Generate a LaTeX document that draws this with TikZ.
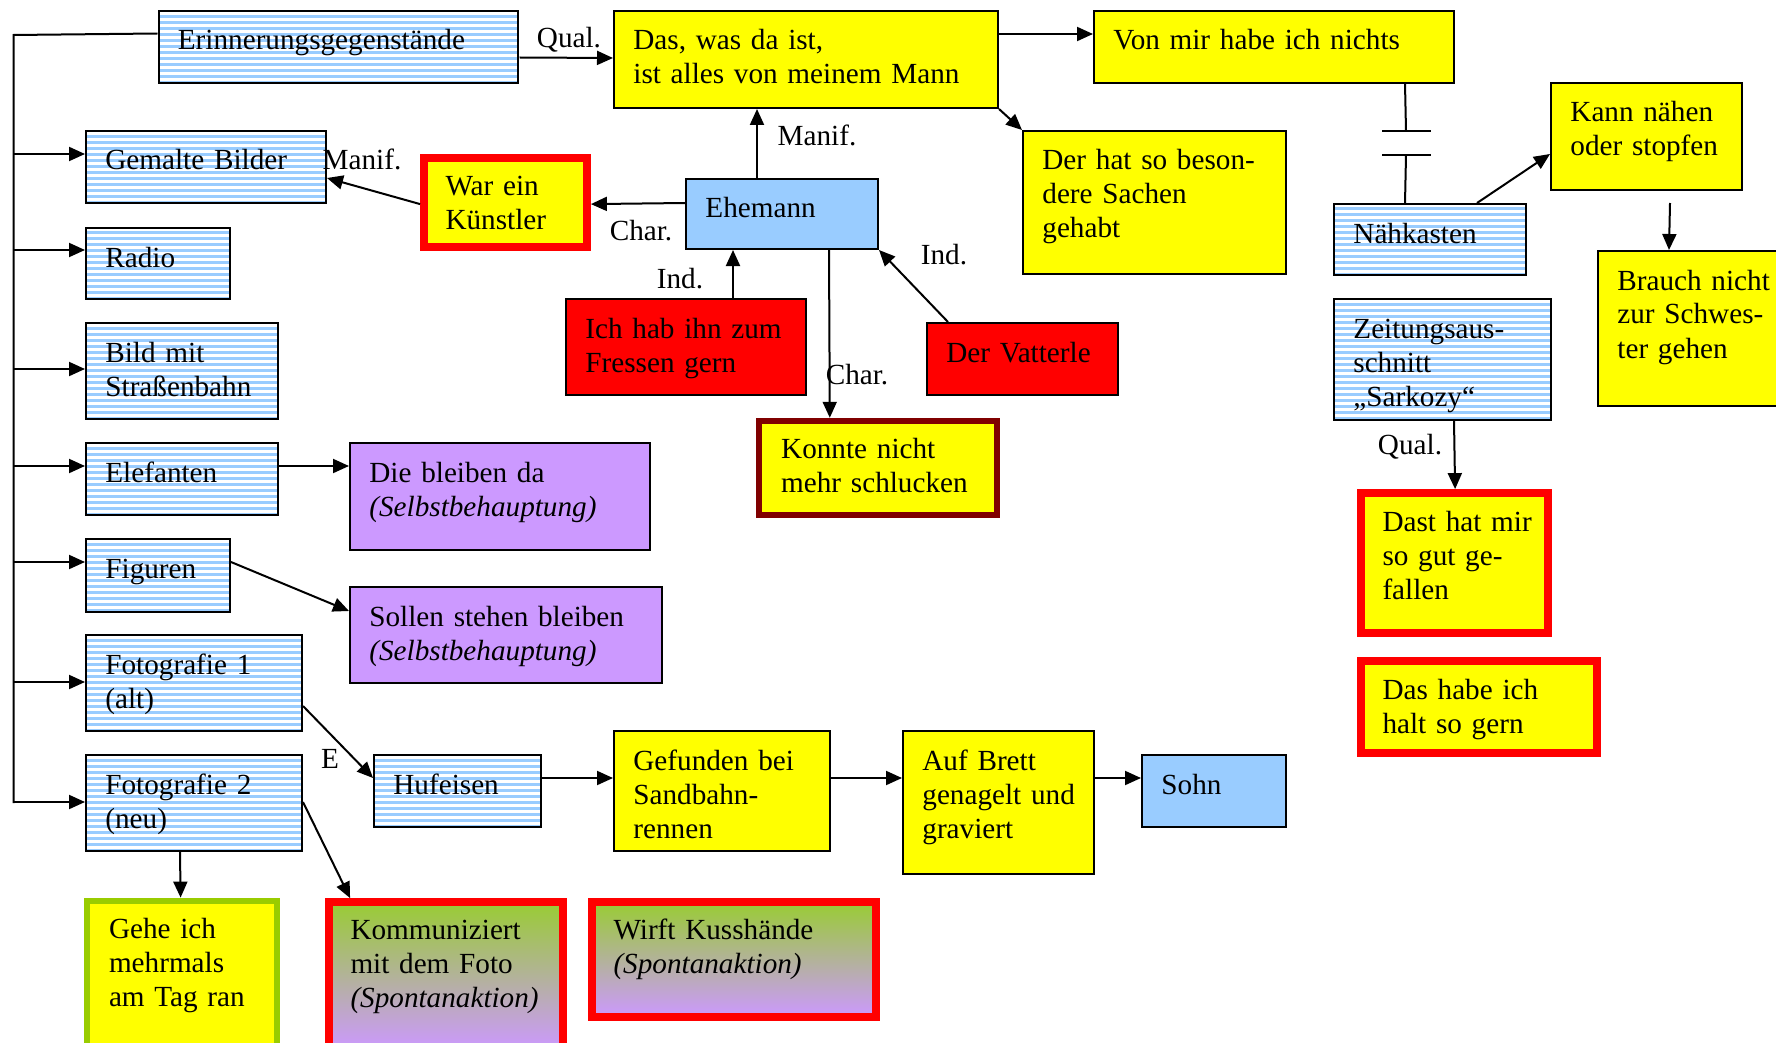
\documentclass[tikz,border=0pt]{standalone}
\usepackage{fontspec}
\setmainfont{Liberation Serif}
\usetikzlibrary{arrows.meta,calc,fit,patterns.meta}
\definecolor{stripeblue}{HTML}{99CCFF}
\definecolor{skyfill}{HTML}{99CCFF}
\definecolor{noteyellow}{HTML}{FFFF00}
\definecolor{alarmred}{HTML}{FF0000}
\definecolor{darkrim}{HTML}{800000}
\definecolor{lilac}{HTML}{CC99FF}
\definecolor{leafgreen}{HTML}{99CC00}
\definecolor{gradgreen}{HTML}{99CC33}

\begin{document}
\begin{tikzpicture}[x=0.5pt,y=-0.5pt,
  every node/.style={inner sep=0pt},
  frame/.style={draw=black,line width=1pt,inner sep=0pt,rectangle},
  striped/.style={frame,pattern={Lines[angle=0,distance=3pt,line width=1.5pt]},pattern color=stripeblue},
  yel/.style={frame,fill=noteyellow},
  sky/.style={frame,fill=skyfill},
  redbox/.style={frame,fill=alarmred},
  lil/.style={frame,fill=lilac},
  redrim/.style={draw=alarmred,line width=3.9pt,fill=noteyellow,inner sep=0pt},
  darkrimbox/.style={draw=darkrim,line width=3.2pt,fill=noteyellow,inner sep=0pt},
  greenrim/.style={draw=leafgreen,line width=3.4pt,fill=noteyellow,inner sep=0pt},
  fade/.style={draw=alarmred,line width=3.9pt,top color=gradgreen,bottom color=lilac,inner sep=0pt},
  txt/.style={anchor=base west,align=left,text width=190pt,font=\fontsize{14.6pt}{17pt}\selectfont},
  lab/.style={font=\fontsize{14.6pt}{17pt}\selectfont},
  arr/.style={line width=1pt,-{Triangle[length=8pt,width=7pt]}},
  rarr/.style={line width=1pt,{Triangle[length=8pt,width=7pt]}-},
  conn/.style={line width=1pt},
]
\useasboundingbox (0,0) rectangle (1776,1043);
\clip (0,0) rectangle (1776,1043);
\fill[white] (0,0) rectangle (1776,1043);

% ---- boxes ----
\node[striped,fit={(159,11) (518,83)}] (erinn) {};
\node[yel,fit={(614,11) (998,108)}] (das) {};
\node[yel,fit={(1094,11) (1454,83)}] (von) {};
\node[striped,fit={(86,131) (326,203)}] (gemalte) {};
\node[redrim,fit={(424,158) (587,247)}] (war) {};
\node[sky,fit={(686,179) (878,249)}] (ehe) {};
\node[yel,fit={(1023,131) (1286,274)}] (derhat) {};
\node[yel,fit={(1551,83) (1742,190)}] (kann) {};
\node[striped,fit={(1334,204) (1526,275)}] (naeh) {};
\node[yel,fit={(1598,251) (1800,406)}] (brauch) {};
\node[striped,fit={(86,228) (230,299)}] (radio) {};
\node[redbox,fit={(566,299) (806,395)}] (ich) {};
\node[redbox,fit={(927,323) (1118,395)}] (vat) {};
\node[striped,fit={(1334,299) (1551,420)}] (zeit) {};
\node[striped,fit={(86,323) (278,419)}] (bild) {};
\node[darkrimbox,fit={(759,421) (997,515)}] (konnte) {};
\node[striped,fit={(86,443) (278,515)}] (elef) {};
\node[lil,fit={(350,443) (650,550)}] (bleib) {};
\node[redrim,fit={(1361,493) (1548,633)}] (dast) {};
\node[striped,fit={(86,539) (230,612)}] (fig) {};
\node[lil,fit={(350,587) (662,683)}] (sollen) {};
\node[redrim,fit={(1361,661) (1597,753)}] (gern) {};
\node[striped,fit={(86,635) (302,731)}] (foto1) {};
\node[striped,fit={(86,755) (302,851)}] (foto2) {};
\node[striped,fit={(374,755) (541,827)}] (huf) {};
\node[yel,fit={(614,731) (830,851)}] (gef) {};
\node[yel,fit={(903,731) (1094,874)}] (brett) {};
\node[sky,fit={(1142,755) (1286,827)}] (sohn) {};
\node[greenrim,fit={(87,901) (277,1050)}] (gehe) {};
\node[fade,fit={(329,902) (563,1050)}] (komm) {};
\node[fade,fit={(592,902) (876,1017)}] (wirft) {};

% ---- box texts ----
\node[txt] (erinn-t) at ($(erinn.north west)+(20,40)$) {Erinnerungsgegenstände};
\node[txt] (das-t) at ($(das.north west)+(20,40)$) {Das, was da ist,\\ist alles von meinem Mann};
\node[txt] (von-t) at ($(von.north west)+(20,40)$) {Von mir habe ich nichts};
\node[txt] (gemalte-t) at ($(gemalte.north west)+(20,40)$) {Gemalte Bilder};
\node[txt] (war-t) at ($(war.north west)+(25,41)$) {War ein\\Künstler};
\node[txt] (ehe-t) at ($(ehe.north west)+(20,40)$) {Ehemann};
\node[txt] (derhat-t) at ($(derhat.north west)+(20,40)$) {Der hat so beson-\\dere Sachen\\gehabt};
\node[txt] (kann-t) at ($(kann.north west)+(20,40)$) {Kann nähen\\oder stopfen};
\node[txt] (naeh-t) at ($(naeh.north west)+(20,40)$) {Nähkasten};
\node[txt] (brauch-t) at ($(brauch.north west)+(20,40)$) {Brauch nicht\\zur Schwes-\\ter gehen};
\node[txt] (radio-t) at ($(radio.north west)+(20,40)$) {Radio};
\node[txt] (ich-t) at ($(ich.north west)+(20,40)$) {Ich hab ihn zum\\Fressen gern};
\node[txt] (vat-t) at ($(vat.north west)+(20,40)$) {Der Vatterle};
\node[txt] (zeit-t) at ($(zeit.north west)+(20,40)$) {Zeitungsaus-\\schnitt\\„Sarkozy“};
\node[txt] (bild-t) at ($(bild.north west)+(20,40)$) {Bild mit\\Straßenbahn};
\node[txt] (konnte-t) at ($(konnte.north west)+(25,41)$) {Konnte nicht\\mehr schlucken};
\node[txt] (elef-t) at ($(elef.north west)+(20,40)$) {Elefanten};
\node[txt] (bleib-t) at ($(bleib.north west)+(20,40)$) {Die bleiben da\\\textit{(Selbstbehauptung)}};
\node[txt] (dast-t) at ($(dast.north west)+(25,42)$) {Dast hat mir\\so gut ge-\\fallen};
\node[txt] (fig-t) at ($(fig.north west)+(20,40)$) {Figuren};
\node[txt] (sollen-t) at ($(sollen.north west)+(20,40)$) {Sollen stehen bleiben\\\textit{(Selbstbehauptung)}};
\node[txt] (gern-t) at ($(gern.north west)+(25,42)$) {Das habe ich\\halt so gern};
\node[txt] (foto1-t) at ($(foto1.north west)+(20,40)$) {Fotografie 1\\(alt)};
\node[txt] (foto2-t) at ($(foto2.north west)+(20,40)$) {Fotografie 2\\(neu)};
\node[txt] (huf-t) at ($(huf.north west)+(20,40)$) {Hufeisen};
\node[txt] (gef-t) at ($(gef.north west)+(20,40)$) {Gefunden bei\\Sandbahn-\\rennen};
\node[txt] (brett-t) at ($(brett.north west)+(20,40)$) {Auf Brett\\genagelt und\\graviert};
\node[txt] (sohn-t) at ($(sohn.north west)+(20,40)$) {Sohn};
\node[txt] (gehe-t) at ($(gehe.north west)+(25,41)$) {Gehe ich\\mehrmals\\am Tag ran};
\node[txt] (komm-t) at ($(komm.north west)+(25,41)$) {Kommuniziert\\mit dem Foto\\\textit{(Spontanaktion)}};
\node[txt] (wirft-t) at ($(wirft.north west)+(25,41)$) {Wirft Kusshände\\\textit{(Spontanaktion)}};

% ---- trunk on the left ----
\coordinate (trunkTop) at (13.6,35);
\coordinate (trunkBot) at (13.6,803);
\draw[conn] ($(erinn.north west)+(0,24)$) -- (trunkTop) -- (trunkBot);
\draw[rarr] ($(gemalte.north west)+(0,24)$) -- ++(-71.4,0);
\draw[rarr] ($(radio.north west)+(0,23)$) -- ++(-71.4,0);
\draw[rarr] ($(bild.north west)+(0,47)$) -- ++(-71.4,0);
\draw[rarr] ($(elef.north west)+(0,24)$) -- ++(-71.4,0);
\draw[rarr] ($(fig.north west)+(0,24)$) -- ++(-71.4,0);
\draw[rarr] ($(foto1.north west)+(0,48)$) -- ++(-71.4,0);
\draw[rarr] ($(foto2.north west)+(0,48)$) -- ++(-71.4,0);

% ---- connectors ----
\draw[arr] ($(erinn.north east)+(0,48)$) -- ($(das.north west)+(0,48)$);
\draw[arr] ($(das.north east)+(0,24)$) -- ($(von.north west)+(0,24)$);
\draw[arr] (das.south east) -- (derhat.north west);
\draw[arr] ($(ehe.north west)+(72,0)$) -- ($(das.south west)+(144,0)$);
\draw[arr] ($(ehe.north west)+(0,25)$) -- ($(war.north east)+(0,50)$);
\draw[arr] ($(war.north west)+(0,50)$) -- ($(gemalte.north east)+(0,48)$);
\draw[arr] ($(ich.north west)+(168,0)$) -- ($(ehe.south west)+(48,0)$);
\draw[arr] ($(vat.north west)+(22,0)$) -- (ehe.south east);
\draw[arr] ($(ehe.south west)+(144,0)$) -- ($(konnte.north west)+(74,0)$);

% interrupted link between "Von mir ..." and the sewing box
\coordinate (cutA) at (1406,131);
\coordinate (cutB) at (1406,155);
\draw[conn] ($(von.south west)+(312,0)$) -- (cutA);
\draw[conn] (cutB) -- ($(naeh.north west)+(72,0)$);
\draw[conn] ($(cutA)+(-24,0)$) -- ($(cutA)+(25,0)$);
\draw[conn] ($(cutB)+(-24,0)$) -- ($(cutB)+(25,0)$);

\draw[arr] ($(naeh.north west)+(144,0)$) -- ($(kann.north west)+(0,72)$);
\coordinate (kannFoot) at (1670,203);
\draw[arr] (kannFoot) -- ($(brauch.north west)+(72,0)$);
\draw[arr] ($(zeit.south west)+(121,0)$) -- ($(dast.north west)+(98,0)$);

\draw[arr] ($(elef.north east)+(0,24)$) -- ($(bleib.north west)+(0,24)$);
\draw[arr] ($(fig.north east)+(0,24)$) -- ($(sollen.north west)+(0,25)$);
\draw[arr] ($(foto1.north east)+(0,72)$) -- ($(huf.north west)+(0,24)$);
\draw[arr] ($(foto2.north east)+(0,48)$) -- ($(komm.north west)+(25,0)$);
\draw[arr] ($(foto2.south west)+(95,0)$) -- ($(gehe.north west)+(97,0)$);
\draw[arr] ($(huf.north east)+(0,24)$) -- ($(gef.north west)+(0,48)$);
\draw[arr] ($(gef.north east)+(0,48)$) -- ($(brett.north west)+(0,48)$);
\draw[arr] ($(brett.north east)+(0,48)$) -- ($(sohn.north west)+(0,24)$);

% ---- connector labels ----
\node[lab] (qual1) at (569,40) {Qual.};
\node[lab] (manif1) at (817,135) {Manif.};
\node[lab] (manif2) at (362,159) {Manif.};
\node[lab] (char1) at (641,231) {Char.};
\node[lab] (ind1) at (680,279) {Ind.};
\node[lab] (ind2) at (944,255) {Ind.};
\node[lab] (char2) at (857,375) {Char.};
\node[lab] (qual2) at (1410,447) {Qual.};
\node[lab] (elab) at (330,759) {E};
\end{tikzpicture}
\end{document}
